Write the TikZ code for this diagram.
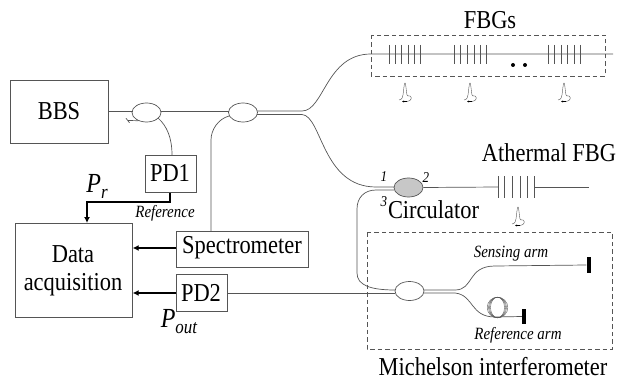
\documentclass[tikz,border=0pt]{standalone}
\usepackage{fontspec}
\setmainfont[FakeStretch=0.87]{Liberation Serif}
\usetikzlibrary{shapes.geometric,arrows.meta}
\definecolor{fib}{HTML}{555555}
\newcommand{\subtxt}[2]{#1\raisebox{-6pt}{\fontsize{19.5}{20}\selectfont #2}}
\tikzset{
 x=1pt,y=-1pt,
 fibre/.style={draw=fib,line width=0.7pt},
 box/.style={draw=fib,line width=0.7pt,inner sep=0pt,anchor=north west},
 coupler/.style={ellipse,draw=fib,line width=0.7pt,minimum width=29pt,minimum height=19pt,inner sep=0pt},
 dashbox/.style={draw=fib,line width=0.7pt,dash pattern=on 4.5pt off 3pt},
 sig/.style={draw=black,line width=1.3pt,-{Latex[length=6pt,width=6pt]}},
 mirror/.style={fill=black,draw=none,minimum width=4pt,inner sep=0pt},
 lab/.style={inner sep=0pt,font=\fontsize{25.8}{28}\selectfont},
 symlab/.style={inner sep=0pt,font=\itshape\fontsize{27.6}{30}\selectfont},
 itlab/.style={inner sep=0pt,font=\itshape\fontsize{17.2}{20}\selectfont},
 numlab/.style={inner sep=0pt,font=\itshape\fontsize{15}{17}\selectfont},
 peak/.pic={
  \draw[draw=fib,line width=0.4pt] (-6,17) .. controls (-3,17) and (-2,14) .. (-1.5,8) .. controls (-1,3) and (-0.5,0) .. (0,0) .. controls (0.5,0) and (1,4) .. (1.5,9) .. controls (2,14) and (3,13) .. (5,13) .. controls (7,14) and (7,18) .. (2,18.5);
  \draw[-{Latex[length=2pt,width=2pt]},black,line width=0.4pt] (2,18.5) -- (-3,18.5);
 }
}
\begin{document}
\begin{tikzpicture}
\useasboundingbox (0,0) rectangle (628,382);
% boxes
\node[box,minimum width=98pt,minimum height=63pt] (bbs) at (10,80) {};
\node[lab] at (59,111) {BBS};
\node[box,minimum width=51pt,minimum height=37pt] (pd1) at (145,155) {};
\node[lab] at (170,173) {PD1};
\node[box,minimum width=117pt,minimum height=94pt] (daq) at (15,223) {};
\node[lab] at (73,254) {Data};
\node[lab] at (73,285) {acquisition};
\node[box,minimum width=132pt,minimum height=36pt] (spec) at (176,231) {};
\node[lab] at (242,248) {Spectrometer};
\node[box,minimum width=51pt,minimum height=37pt] (pd2) at (176,274) {};
\node[lab] at (201,293) {PD2};
% couplers
\node[coupler] (c1) at (146.5,112.5) {};
\node[coupler] (c2) at (243,112.5) {};
\node[coupler,fill=black!22] (circ) at (408.5,187.5) {};
\node[coupler] (c3) at (409.5,291) {};
% free ends
\coordinate (stub) at (128,120.5);
\coordinate (fbgl) at (371,54);
\coordinate (fbgend) at (613,54);
\coordinate (athL) at (498.3,187);
\coordinate (athR) at (534,187);
\coordinate (athend) at (589,187);
% mirrors
\node[mirror,minimum height=16pt] (m1) at (588.5,265) {};
\node[mirror,minimum height=15pt] (m2) at (524,316.5) {};
% fibres
\draw[fibre] (bbs.east |- 0,111) -- (132.5,111);
\draw[fibre] (161,111) -- (228.5,111);
\draw[fibre] (c1.225) -- (stub);
\draw[fibre] (126,118.3) -- (129.5,122.7);
\draw[fibre] (158,118) .. controls (167,126) and (172,138) .. (172,155);
\draw[fibre] (211,231) -- (211,140) .. controls (211,130) and (218,119) .. (229,116);
\draw[fibre] (257,111) -- (302,111) .. controls (324,111) and (326,54) .. (fbgl) -- (fbgend);
\draw[fibre] (257,114.5) -- (302,114.5) .. controls (322,116) and (322,187) .. (376,187) -- (394,187);
\draw[fibre] (394,190) -- (376,190) .. controls (364,190) and (357,198) .. (357,209) -- (357,273) .. controls (357,285) and (370,290) .. (395,290);
\draw[fibre] (pd2.east |- 0,293) -- (395,293);
\draw[fibre] (circ.east) -- (athL);
\draw[fibre] (athR) -- (athend);
\draw[fibre] (424,290) -- (455,290) .. controls (474,290) and (467,266) .. (495,266) -- (m1.west);
\draw[fibre] (424,293) -- (455,293) .. controls (474,295) and (470,317) .. (495,317) -- (m2.west);
% coil
\foreach \r in {7,8,9,10.3}
  \draw[draw=fib,line width=0.4pt] (497.5,307.5) ellipse ({\r} and 10.3);
% gratings
\foreach \g in {389.3,395.3,401.7,408.3,414.3,420.7,454.3,460.7,467,474,480.5,486.7,548.3,554.7,561,567.5,574,580}
  \draw[fibre] (\g,45) -- (\g,64);
\foreach \g in {498.3,504.7,512.3,520,527.3,534}
  \draw[fibre] (\g,176) -- (\g,198);
\fill (513,65) circle (2pt) (525,65) circle (2pt);
% peaks
\path (405,83) pic {peak} (470,83) pic {peak} (564,83) pic {peak} (518,207) pic {peak};
% dashed
\draw[dashbox] (371,35) rectangle (605,76);
\draw[dashbox] (367,232) rectangle (612,349);
% signals
\draw[sig] (pd1.south -| 170,0) -- (170,202) -- (87,202) -- (87,223);
\draw[sig] (spec.west |- 0,248) -- (daq.east |- 0,248);
\draw[sig] (pd2.west |- 0,293) -- (daq.east |- 0,293);
% labels
\node[lab] at (490,20) {FBGs};
\node[lab] at (549,153) {Athermal FBG};
\node[lab] at (433.5,210) {Circulator};
\node[lab] at (493,367) {Michelson interferometer};
\node[numlab] at (384,177) {1};
\node[numlab] at (426,178) {2};
\node[numlab] at (384,202) {3};
\node[itlab] at (511,254) {Sensing arm};
\node[itlab] at (518,335) {Reference arm};
\node[itlab] at (165,213) {Reference};
\node[symlab] at (97,186) {\subtxt{P}{r}};
\node[symlab] at (179,322) {\subtxt{P}{out}};
\end{tikzpicture}
\end{document}
